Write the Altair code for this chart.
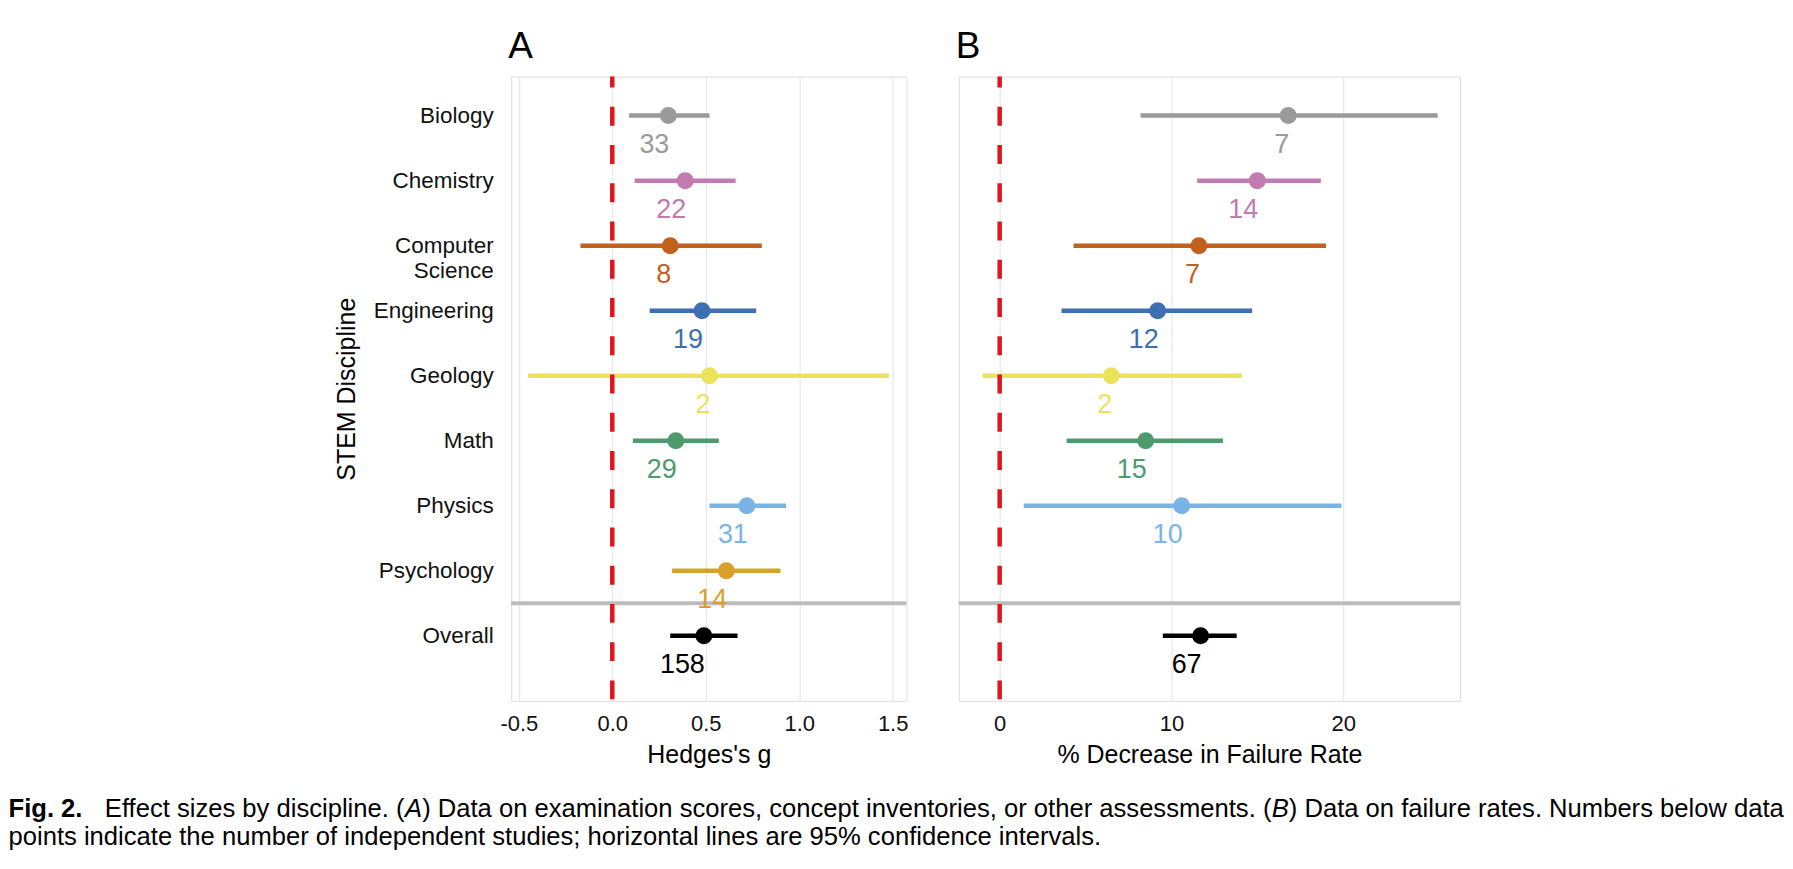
import altair as alt
import pandas as pd

# ------------------------------------------------------------------ data
disciplines = ["Biology", "Chemistry", "Computer Science", "Engineering",
               "Geology", "Math", "Physics", "Psychology", "Overall"]
y_labels = ["Biology", "Chemistry", "Computer\u00a0|Science", "Engineering",
            "Geology", "Math", "Physics", "Psychology", "Overall"]
colors = ["#9a9a9a", "#c27ab0", "#c2601e", "#3d6fb2", "#ece35c",
          "#4e9a6f", "#7ab4e6", "#d9a12c", "#000000"]

# Panel A: Hedges's g
a_est = [0.30, 0.39, 0.31, 0.48, 0.52, 0.34, 0.72, 0.61, 0.49]
a_lo = [0.09, 0.12, -0.17, 0.20, -0.45, 0.11, 0.52, 0.32, 0.31]
a_hi = [0.52, 0.66, 0.80, 0.77, 1.48, 0.57, 0.93, 0.90, 0.67]
a_n = [33, 22, 8, 19, 2, 29, 31, 14, 158]

# Panel B: % decrease in failure rate
b_est = [16.8, 15.0, 11.6, 9.2, 6.5, 8.5, 10.6, None, 11.7]
b_lo = [8.2, 11.5, 4.3, 3.6, -1.0, 3.9, 1.4, None, 9.5]
b_hi = [25.5, 18.7, 19.0, 14.7, 14.1, 13.0, 19.9, None, 13.8]
b_n = [7, 14, 7, 12, 2, 15, 10, None, 67]

a_ticks = [-0.5, 0.0, 0.5, 1.0, 1.5]
b_ticks = [0, 10, 20]

caption_bold = "Fig. 2."
caption_l1 = [
    ("Effect sizes by discipline. (", "normal"),
    ("A", "italic"),
    (") Data on examination scores, concept inventories, or other assessments. (", "normal"),
    ("B", "italic"),
    (") Data on failure rates. Numbers below data", "normal"),
]
caption_l2 = ("points indicate the number of independent studies; "
              "horizontal lines are 95% confidence intervals.")

# ------------------------------------------------------------------ style
FONT = "Liberation Sans, Arial, Helvetica, sans-serif"
RED = "#e0161e"
rows = list(range(1, len(disciplines) + 1))
Y_DOMAIN = [0.4, 10.0]
SEP_ROW = 8.5

# Arial / Liberation Sans advance widths (per 1000 em) for caption layout
_W = {" ": 278, "(": 333, ")": 333, ",": 278, ".": 278, ";": 278, "%": 889,
      "-": 333, "A": 667, "B": 667, "D": 722, "E": 667, "F": 611, "N": 722,
      "a": 556, "b": 556, "c": 500, "d": 556, "e": 556, "f": 278, "g": 556,
      "h": 556, "i": 222, "j": 222, "k": 500, "l": 222, "m": 833, "n": 556,
      "o": 556, "p": 556, "q": 556, "r": 333, "s": 500, "t": 278, "u": 556,
      "v": 500, "w": 722, "x": 500, "y": 500, "z": 500}


def em(s):
    return sum(_W.get(ch, 556) for ch in s) / 1000.0


CAP_X0 = -503.5          # caption left, relative to panel A plot origin
CAP_X1 = -407.0          # start of regular caption text
CAP_RIGHT = 1275.0       # right end of line 1 (relative)
cap_size = (CAP_RIGHT - CAP_X1) / sum(em(s) for s, _ in caption_l1)
CAP_Y1 = 742
CAP_Y2 = 770


def make_df(est, lo, hi, n):
    recs = []
    for r, d, e, l, h, k, c in zip(rows, disciplines, est, lo, hi, n, colors):
        if e is None:
            continue
        recs.append({"discipline": d, "row": r, "est": e, "lo": l, "hi": h,
                     "n": str(k), "color": c})
    return pd.DataFrame(recs)


ylab_expr = ("split([" + ",".join("'" + s + "'" for s in y_labels)
             + "][datum.value - 1], '|')")
a_lab_expr = ("datum.value < 0 ? '-' + format(abs(datum.value), '.1f') "
              ": format(datum.value, '.1f')")
b_lab_expr = "format(datum.value, 'd')"

ONE = pd.DataFrame({"k": [0]})


def caption_layers(size):
    layers = []
    layers.append(alt.Chart(ONE).mark_text(
        align="left", baseline="alphabetic", font=FONT, fontSize=size,
        fontWeight="bold", color="#000000").encode(
        x=alt.value(CAP_X0), y=alt.value(CAP_Y1), text=alt.value(caption_bold)))
    x = CAP_X1
    for s, style in caption_l1:
        layers.append(alt.Chart(ONE).mark_text(
            align="left", baseline="alphabetic", font=FONT, fontSize=size,
            fontStyle=style, color="#000000").encode(
            x=alt.value(x), y=alt.value(CAP_Y1), text=alt.value(s)))
        x += em(s) * size
    layers.append(alt.Chart(ONE).mark_text(
        align="left", baseline="alphabetic", font=FONT, fontSize=size,
        color="#000000").encode(
        x=alt.value(CAP_X0), y=alt.value(CAP_Y2), text=alt.value(caption_l2)))
    return layers


def panel(df, x_domain, ticks, label_expr, x_title, letter, width, show_y,
          extra=()):
    xs = alt.Scale(domain=x_domain, nice=False, zero=False)
    ys = alt.Scale(domain=Y_DOMAIN, reverse=True, nice=False, zero=False)
    x_axis = alt.Axis(values=ticks, labelExpr=label_expr, grid=True,
                      gridColor="#e8e8e8", gridWidth=1.2, ticks=False,
                      tickSize=0, domain=False, labelPadding=13,
                      labelFontSize=22, labelColor="#111111", labelFont=FONT,
                      labelFlush=False, titleFontSize=25, titleFont=FONT,
                      titleFontWeight="normal", titleColor="#000000",
                      titlePadding=8)
    if show_y:
        y_axis = alt.Axis(values=rows, labelExpr=ylab_expr,
                          grid=False, ticks=False, tickSize=0,
                          domain=False, labelPadding=18,
                          labelFontSize=22.5, labelLineHeight=25,
                          labelColor="#111111", labelFont=FONT,
                          titleFontSize=25, titleFont=FONT,
                          titleFontWeight="normal",
                          titleColor="#000000", titlePadding=14)

        def Y(f):
            return alt.Y(f, scale=ys, axis=y_axis, title="STEM Discipline")
    else:
        def Y(f):
            return alt.Y(f, scale=ys, axis=None)

    def X(f):
        return alt.X(f, scale=xs, axis=x_axis, title=x_title)

    col = alt.Color("color:N", scale=None)
    base = alt.Chart(df)
    sep = alt.Chart(pd.DataFrame({"s": [SEP_ROW]})).mark_rule(
        color="#bcbcbc", strokeWidth=4).encode(y=Y("s:Q"))
    ci = base.mark_rule(strokeWidth=4.5).encode(
        x=X("lo:Q"), x2="hi:Q", y=Y("row:Q"), color=col)
    pts = base.mark_circle(size=290, opacity=1).encode(
        x=X("est:Q"), y=Y("row:Q"), color=col)
    lbl = base.mark_text(align="right", baseline="middle", dy=29, dx=1,
                         fontSize=27, font=FONT).encode(
        x=X("est:Q"), y=Y("row:Q"), text="n:N", color=col)
    zero = alt.Chart(pd.DataFrame({"z": [0]})).mark_rule(
        color=RED, strokeWidth=4.5, strokeDash=[19, 19.3],
        strokeDashOffset=8).encode(x=X("z:Q"))
    head = alt.Chart(ONE).mark_text(
        align="left", baseline="alphabetic", font=FONT, fontSize=37,
        color="#000000").encode(
        x=alt.value(-3), y=alt.value(-18.5), text=alt.value(letter))
    layers = [ci, sep, pts, lbl, zero, head] + list(extra)
    return alt.layer(*layers).properties(width=width, height=625.3)


panel_a = panel(make_df(a_est, a_lo, a_hi, a_n), [-0.541, 1.574], a_ticks,
                a_lab_expr, "Hedges's g", "A", 396, True,
                extra=caption_layers(cap_size))
panel_b = panel(make_df(b_est, b_lo, b_hi, b_n), [-2.38, 26.8], b_ticks,
                b_lab_expr, "% Decrease in Failure Rate", "B", 502, False)

chart = alt.hconcat(panel_a, panel_b, spacing=52.4, bounds="flush").properties(
    padding={"left": 0, "top": 19, "right": 0, "bottom": 0}
).configure_view(stroke="#9e9e9e", strokeWidth=2).configure(
    background="#ffffff")

chart.save("out.html", embed_options={"renderer": "svg", "actions": False})
